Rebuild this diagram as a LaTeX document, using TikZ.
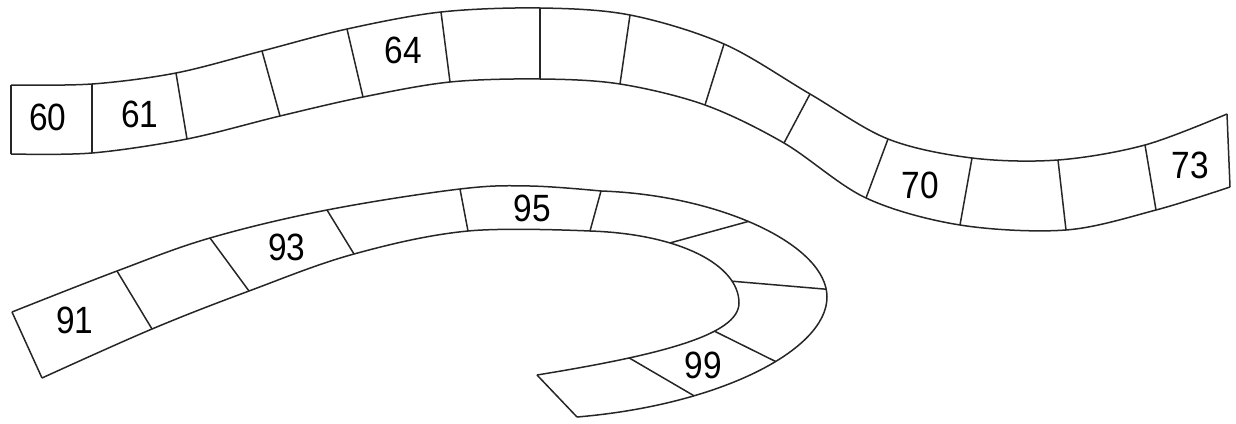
\documentclass[tikz,border=0pt]{standalone}
\usepackage{fontspec}
\setmainfont{Liberation Sans}
\newfontfamily\labfont[FakeStretch=0.88]{Liberation Sans}
\begin{document}
\begin{tikzpicture}[x=0.5pt,y=-0.5pt,
  edge/.style={line width=0.75pt, black!85, line join=round},
  lab/.style={font=\labfont\fontsize{19}{19}\selectfont, inner sep=0pt}]
\useasboundingbox (0,0) rectangle (1236,423);
% upper strip: top edge points
\coordinate (T0) at (11,85);   \coordinate (T1) at (92,84);
\coordinate (T2) at (176,73);  \coordinate (T3) at (262,51);
\coordinate (T4) at (347,29);  \coordinate (T5) at (441,12);
\coordinate (T6) at (540,8);   \coordinate (T7) at (630,15);
\coordinate (T8) at (724,44);  \coordinate (T9) at (810,94);
\coordinate (T10) at (888,139); \coordinate (T11) at (972,158);
\coordinate (T12) at (1058,160); \coordinate (T13) at (1145,145);
\coordinate (T14) at (1227,114);
% upper strip: bottom edge points
\coordinate (B0) at (11,154);  \coordinate (B1) at (92,153);
\coordinate (B2) at (187,139); \coordinate (B3) at (280,116);
\coordinate (B4) at (363,97);  \coordinate (B5) at (450,82);
\coordinate (B6) at (540,79);  \coordinate (B7) at (620,84);
\coordinate (B8) at (705,105); \coordinate (B9) at (784,143);
\coordinate (B10) at (866,198); \coordinate (B11) at (960,225);
\coordinate (B12) at (1066,230); \coordinate (B13) at (1156,210);
\coordinate (B14) at (1230,187);
\draw[edge] plot[smooth, tension=0.55] coordinates {(T0) (T1) (T2) (T3) (T4) (T5) (T6) (T7) (T8) (T9) (T10) (T11) (T12) (T13) (T14)};
\draw[edge] plot[smooth, tension=0.55] coordinates {(B0) (B1) (B2) (B3) (B4) (B5) (B6) (B7) (B8) (B9) (B10) (B11) (B12) (B13) (B14)};
\draw[edge] (T0) -- (B0);
\draw[edge] (T14) -- (B14);
\foreach \i in {1,...,13} { \draw[edge] (T\i) -- (B\i); }
% lower strip: fixed points
\coordinate (O0) at (12,312);  \coordinate (O1) at (117,271);
\coordinate (O2) at (210,238); \coordinate (O3) at (327,210);
\coordinate (O4) at (460,189); \coordinate (O5) at (601,191);
\coordinate (O10) at (577,417);
\coordinate (I0) at (42,378);  \coordinate (I1) at (152,329);
\coordinate (I2) at (249,291); \coordinate (I3) at (354,254);
\coordinate (I4) at (468,231); \coordinate (I5) at (590,231);
\coordinate (I10) at (537,375);
% outer edge with the hook
\draw[edge] plot[smooth, tension=0.6] coordinates {(O0) (O1) (O2) (O3) (O4) (530,186) (O5)}
  .. controls (720,195) and (827,245) .. coordinate[pos=0.46] (O6) coordinate[pos=0.95] (O7) (827,297)
  .. controls (827,350) and (720,405) .. coordinate[pos=0.42] (O8) coordinate[pos=0.7] (O9) (O10);
% inner edge with the hook
\draw[edge] plot[smooth, tension=0.6] coordinates {(I0) (I1) (I2) (I3) (I4) (I5)}
  .. controls (680,234) and (739,265) .. coordinate[pos=0.34] (I6) coordinate[pos=0.8] (I7) (739,303)
  .. controls (739,335) and (660,355) .. coordinate[pos=0.33] (I8) coordinate[pos=0.72] (I9) (I10);
\draw[edge] (O0) -- (I0);
\draw[edge] (O10) -- (I10);
\foreach \i in {1,...,9} { \draw[edge] (O\i) -- (I\i); }
% labels
\node[lab] (n60) at (48,117) {60};
\node[lab] (n61) at (140,114) {61};
\node[lab] (n64) at (403,50) {64};
\node[lab] (n70) at (920,185) {70};
\node[lab] (n73) at (1190,165) {73};
\node[lab] (n91) at (75,320) {91};
\node[lab] (n93) at (287,247) {93};
\node[lab] (n95) at (532,208) {95};
\node[lab] (n99) at (703,365) {99};
\end{tikzpicture}
\end{document}
